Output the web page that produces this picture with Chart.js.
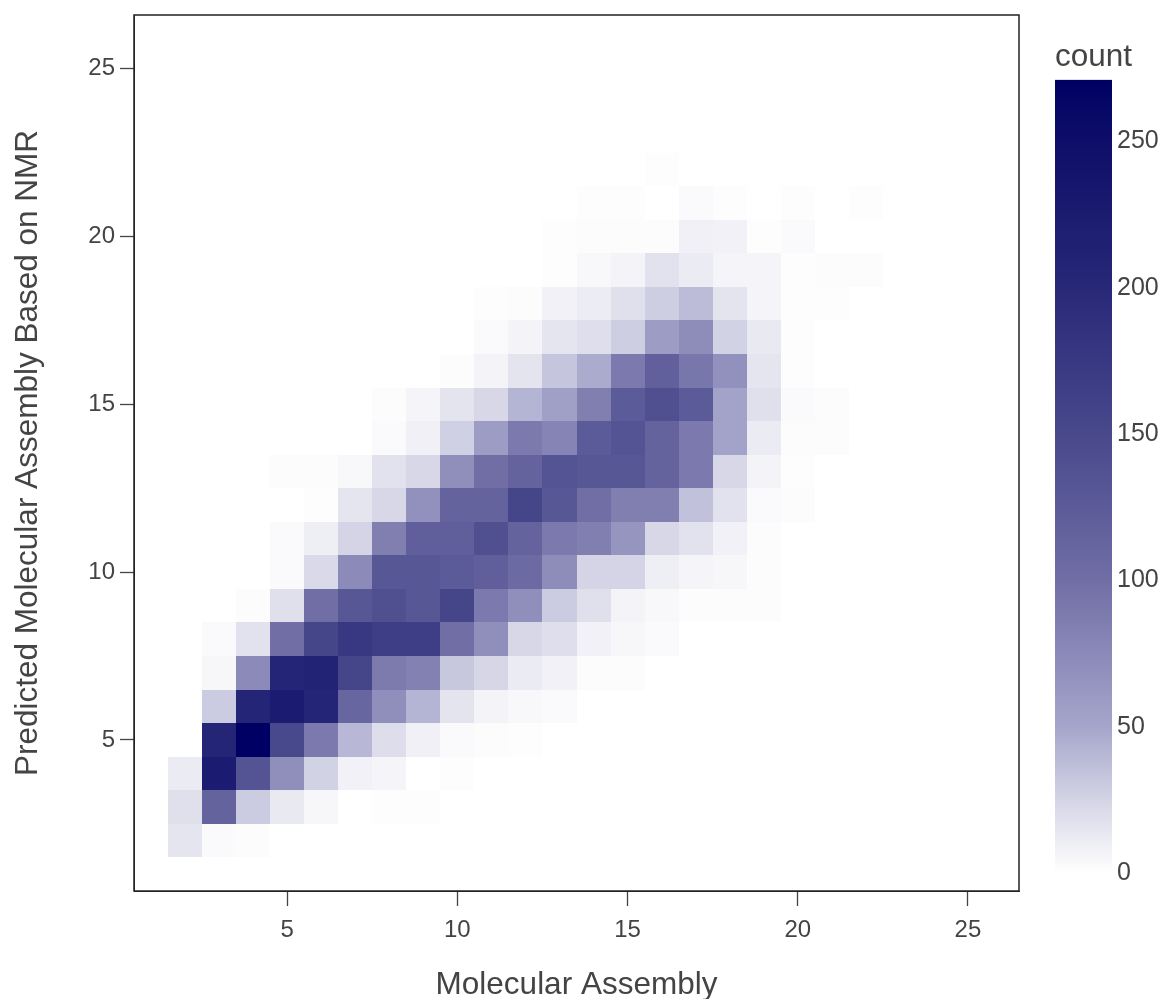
<!DOCTYPE html>
<html>
<head>
<meta charset="utf-8">
<title>Molecular Assembly heatmap</title>
<script src="https://cdn.jsdelivr.net/npm/chart.js@4"></script>
<style>
  html, body { margin: 0; padding: 0; background: #fff; }
  #wrap { position: relative; width: 1164px; height: 999px; overflow: hidden; }
  canvas { position: absolute; top: 0; }
  #heatmap { left: 0; }
  #colorbar { left: 1020px; }
</style>
</head>
<body>
<div id="wrap">
  <canvas id="heatmap" width="1020" height="999"></canvas>
  <canvas id="colorbar" width="144" height="999"></canvas>
</div>
<script>
const xBins = [2, 3, 4, 5, 6, 7, 8, 9, 10, 11, 12, 13, 14, 15, 16, 17, 18, 19, 20, 21, 22];
const yBins = [2, 3, 4, 5, 6, 7, 8, 9, 10, 11, 12, 13, 14, 15, 16, 17, 18, 19, 20, 21, 22];
const xTicks = [5, 10, 15, 20, 25];
const yTicks = [5, 10, 15, 20, 25];
const countTicks = [0, 50, 100, 150, 200, 250];
const maxCount = 271;

// one row per yBin, one column per xBin
const counts = [
  [15, 3, 2, 0, 0, 0, 0, 0, 0, 0, 0, 0, 0, 0, 0, 0, 0, 0, 0, 0, 0],
  [18, 115, 30, 13, 5, 0, 1, 1, 0, 0, 0, 0, 0, 0, 0, 0, 0, 0, 0, 0, 0],
  [12, 225, 135, 70, 26, 8, 6, 0, 1, 0, 0, 0, 0, 0, 0, 0, 0, 0, 0, 0, 0],
  [0, 205, 271, 150, 90, 40, 20, 9, 3, 2, 1, 0, 0, 0, 0, 0, 0, 0, 0, 0, 0],
  [0, 30, 205, 225, 205, 110, 70, 42, 16, 7, 4, 3, 0, 0, 0, 0, 0, 0, 0, 0, 0],
  [0, 5, 75, 205, 210, 155, 88, 83, 32, 24, 12, 8, 2, 2, 0, 0, 0, 0, 0, 0, 0],
  [0, 3, 17, 100, 155, 175, 165, 165, 100, 70, 23, 19, 8, 5, 3, 0, 0, 0, 0, 0, 0],
  [0, 0, 2, 18, 100, 130, 140, 130, 155, 90, 70, 30, 18, 7, 4, 2, 2, 2, 0, 0, 0],
  [0, 0, 0, 3, 22, 75, 130, 130, 125, 120, 105, 72, 25, 25, 10, 6, 5, 2, 0, 0, 0],
  [0, 0, 0, 3, 10, 25, 85, 120, 120, 140, 115, 90, 85, 65, 23, 17, 8, 2, 0, 0, 0],
  [0, 0, 0, 0, 1, 15, 23, 68, 115, 115, 155, 130, 100, 85, 85, 35, 17, 3, 2, 0, 0],
  [0, 0, 0, 2, 2, 4, 17, 23, 70, 100, 115, 135, 130, 130, 115, 90, 23, 7, 1, 0, 0],
  [0, 0, 0, 0, 0, 0, 3, 9, 27, 58, 90, 80, 125, 135, 115, 90, 52, 12, 2, 2, 0],
  [0, 0, 0, 0, 0, 0, 2, 6, 16, 23, 42, 55, 85, 125, 140, 125, 52, 18, 3, 2, 0],
  [0, 0, 0, 0, 0, 0, 0, 0, 2, 7, 16, 33, 47, 90, 118, 92, 68, 15, 1, 0, 0],
  [0, 0, 0, 0, 0, 0, 0, 0, 0, 3, 7, 15, 19, 28, 58, 72, 26, 13, 1, 0, 0],
  [0, 0, 0, 0, 0, 0, 0, 0, 0, 1, 2, 8, 11, 18, 28, 38, 16, 6, 1, 1, 0],
  [0, 0, 0, 0, 0, 0, 0, 0, 0, 0, 0, 1, 4, 7, 17, 12, 6, 6, 1, 2, 2],
  [0, 0, 0, 0, 0, 0, 0, 0, 0, 0, 0, 1, 2, 2, 2, 9, 8, 1, 3, 0, 0],
  [0, 0, 0, 0, 0, 0, 0, 0, 0, 0, 0, 0, 1, 1, 0, 3, 1, 0, 1, 0, 1],
  [0, 0, 0, 0, 0, 0, 0, 0, 0, 0, 0, 0, 0, 0, 1, 0, 0, 0, 0, 0, 0]
];

// colour ramp
const rampValues = [0, 10, 25, 50, 100, 150, 200, 250, 271];
const rampColors = [
  [255, 255, 255], [238, 238, 245], [212, 212, 230], [165, 165, 203], [112, 110, 165],
  [72, 72, 140], [40, 40, 120], [14, 14, 105], [0, 0, 100]
];

function countColor(v) {
  let i = 1;
  while (i < rampValues.length - 1 && v > rampValues[i]) i++;
  const t = (v - rampValues[i - 1]) / (rampValues[i] - rampValues[i - 1]);
  const a = rampColors[i - 1], b = rampColors[i];
  const c = a.map((n, k) => Math.round(n + (b[k] - n) * t));
  return 'rgb(' + c.join(',') + ')';
}

const textColor = '#444';
const lineColor = '#222';
const fontFamily = '"Liberation Sans", Arial, sans-serif';

const cells = [];
yBins.forEach((y, r) => {
  xBins.forEach((x, c) => {
    if (counts[r][c] > 0) cells.push({ x: x, y: y, v: counts[r][c] });
  });
});

// Chart.js has no heatmap type, so paint each point as a unit square
const heatCells = {
  id: 'heatCells',
  beforeDatasetsDraw(chart) {
    const { ctx, scales: { x, y } } = chart;
    ctx.save();
    cells.forEach(cell => {
      const left = Math.round(x.getPixelForValue(cell.x - 0.5));
      const right = Math.round(x.getPixelForValue(cell.x + 0.5));
      const top = Math.round(y.getPixelForValue(cell.y + 0.5));
      const bottom = Math.round(y.getPixelForValue(cell.y - 0.5));
      ctx.fillStyle = countColor(cell.v);
      ctx.fillRect(left, top, right - left, bottom - top);
    });
    ctx.restore();
  }
};

const plotFrame = {
  id: 'plotFrame',
  afterDraw(chart) {
    const { ctx, chartArea: a } = chart;
    ctx.save();
    ctx.strokeStyle = lineColor;
    ctx.lineWidth = 1.5;
    ctx.strokeRect(a.left, a.top, a.right - a.left, a.bottom - a.top);
    ctx.restore();
  }
};

new Chart(document.getElementById('heatmap'), {
  type: 'scatter',
  data: { datasets: [{ data: cells, pointRadius: 0, pointHoverRadius: 0 }] },
  plugins: [heatCells, plotFrame],
  options: {
    responsive: false,
    animation: false,
    layout: { padding: { top: 15, right: 1 } },
    plugins: { legend: { display: false }, tooltip: { enabled: false } },
    scales: {
      x: {
        type: 'linear',
        min: 0.5,
        max: 26.5,
        afterBuildTicks: s => { s.ticks = xTicks.map(v => ({ value: v })); },
        afterFit: s => { s.height = 108; s.paddingLeft = 0; s.paddingRight = 0; },
        grid: { drawOnChartArea: false, color: textColor, tickLength: 15, tickWidth: 1.3 },
        border: { color: lineColor, width: 1 },
        ticks: { color: textColor, font: { family: fontFamily, size: 24 }, padding: 10, maxRotation: 0 },
        title: {
          display: true,
          text: 'Molecular Assembly',
          color: textColor,
          font: { family: fontFamily, size: 31.5 },
          padding: { top: 0, bottom: -5 }
        }
      },
      y: {
        type: 'linear',
        min: 0.5,
        max: 26.6,
        afterBuildTicks: s => { s.ticks = yTicks.map(v => ({ value: v })); },
        afterFit: s => { s.width = 134; s.paddingTop = 0; s.paddingBottom = 0; },
        grid: { drawOnChartArea: false, color: textColor, tickLength: 14, tickWidth: 1.3 },
        border: { color: lineColor, width: 1 },
        ticks: { color: textColor, font: { family: fontFamily, size: 24 }, padding: 5 },
        title: {
          display: true,
          text: 'Predicted Molecular Assembly Based on NMR',
          color: textColor,
          font: { family: fontFamily, size: 31.5 },
          padding: { top: 9, bottom: 0 }
        }
      }
    }
  }
});

function legendGradient(context) {
  const { ctx, chartArea, scales } = context.chart;
  if (!chartArea) return '#fff';
  const y = scales.y;
  const g = ctx.createLinearGradient(0, y.getPixelForValue(0), 0, y.getPixelForValue(maxCount));
  rampValues.forEach(v => g.addColorStop(v / maxCount, countColor(v)));
  return g;
}

new Chart(document.getElementById('colorbar'), {
  type: 'bar',
  data: {
    labels: ['count'],
    datasets: [{ data: [[0, maxCount]], backgroundColor: legendGradient, categoryPercentage: 1, barPercentage: 1 }]
  },
  options: {
    responsive: false,
    animation: false,
    layout: { padding: { left: 35, top: 38, bottom: 126 } },
    plugins: {
      legend: { display: false },
      tooltip: { enabled: false },
      title: {
        display: true,
        text: 'count',
        align: 'start',
        color: textColor,
        font: { family: fontFamily, size: 31.5, weight: 'normal' },
        padding: { top: 0, bottom: 4 }
      }
    },
    scales: {
      x: { display: false },
      y: {
        position: 'right',
        min: 0,
        max: maxCount,
        afterBuildTicks: s => { s.ticks = countTicks.map(v => ({ value: v })); },
        afterFit: s => { s.width = 52; s.paddingTop = 0; s.paddingBottom = 0; },
        grid: { display: false, drawTicks: false },
        border: { display: false },
        ticks: { color: textColor, font: { family: fontFamily, size: 25 }, padding: 5 }
      }
    }
  }
});
</script>
</body>
</html>
